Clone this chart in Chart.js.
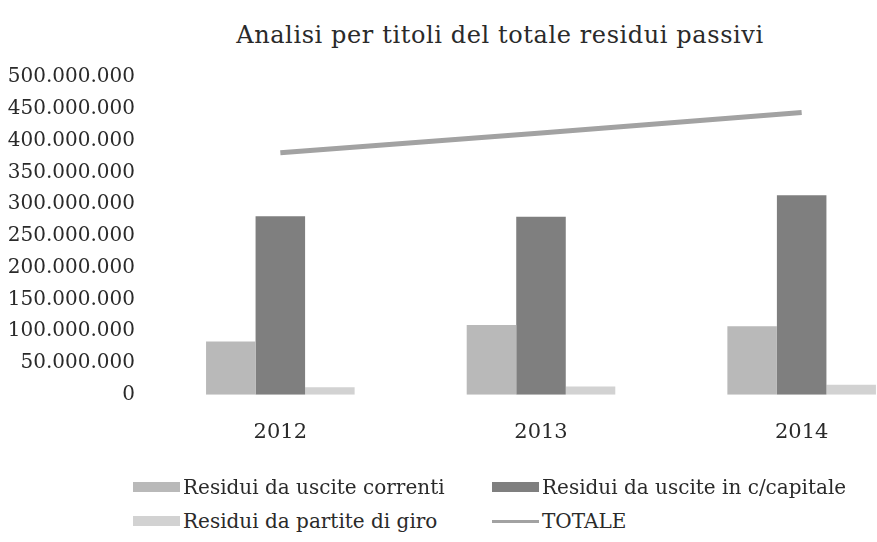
<!DOCTYPE html>
<html>
<head>
<meta charset="utf-8">
<script src="https://cdn.jsdelivr.net/npm/chart.js@4.4.1/dist/chart.umd.min.js"></script>
<style>
    body { margin: 0; background: #fff; overflow: hidden; width: 877px; height: 542px; position: relative; }
    #wrap { position: absolute; left: 0; top: 0; width: 932px; height: 479px; }
    #title { position: absolute; top: 21px; left: 0; width: 1000px; text-align: center; font: 24px "DejaVu Serif", serif; color: #2a2a2a; letter-spacing: 0.6px; }
    .leg { position: absolute; font: 20px "DejaVu Serif", serif; color: #2a2a2a; display: flex; align-items: center; white-space: nowrap; }
    .leg .box { width: 47px; height: 10px; margin-right: 3px; }
    .leg .ln { width: 47px; height: 3px; margin-right: 3px; }
</style>
</head>
<body>
<div id="title">Analisi per titoli del totale residui passivi</div>
<div id="wrap"><canvas id="chart" width="932" height="479"></canvas></div>
<div id="legend"></div>
<script>
// data
const years = ["2012", "2013", "2014"];
const residuiCorrenti = [84000000, 110000000, 108000000];
const residuiCapitale = [281000000, 280000000, 314000000];
const residuiGiro = [12000000, 13000000, 16000000];
const totale = [381000000, 412000000, 444000000];
const yTicksMax = 500000000;
const yTickStep = 50000000;

const seriesNames = ["Residui da uscite correnti", "Residui da uscite in c/capitale", "Residui da partite di giro", "TOTALE"];
const seriesColors = ["#b9b9b9", "#7f7f7f", "#d2d2d2", "#a2a2a2"];

const fmt = (v) => String(v).replace(/\B(?=(\d{3})+(?!\d))/g, ".");

const ctx = document.getElementById("chart").getContext("2d");
const myChart = new Chart(ctx, {
    type: "bar",
    data: {
        labels: years,
        datasets: [
            { label: seriesNames[0], data: residuiCorrenti, backgroundColor: seriesColors[0], order: 2 },
            { label: seriesNames[1], data: residuiCapitale, backgroundColor: seriesColors[1], order: 2 },
            { label: seriesNames[2], data: residuiGiro, backgroundColor: seriesColors[2], order: 2 },
            {
                type: "line",
                label: seriesNames[3],
                data: totale,
                borderColor: seriesColors[3],
                borderWidth: 5,
                pointRadius: 0,
                fill: false,
                order: 1
            }
        ]
    },
    options: {
        responsive: false,
        animation: false,
        layout: { padding: { top: 77, bottom: 9, left: 0, right: 0 } },
        datasets: {
            bar: { categoryPercentage: 0.57, barPercentage: 1.0 }
        },
        plugins: {
            legend: { display: false },
            title: { display: false },
            tooltip: { enabled: false }
        },
        scales: {
            x: {
                grid: { display: false, drawTicks: false },
                border: { display: false },
                ticks: { color: "#2a2a2a", font: { family: "DejaVu Serif", size: 21 }, padding: 25 }
            },
            y: {
                min: 0,
                max: yTicksMax,
                afterFit: (axis) => { axis.width = 150; },
                grid: { display: false, drawTicks: false },
                border: { display: false },
                ticks: {
                    stepSize: yTickStep,
                    padding: 15,
                    color: "#2a2a2a",
                    font: { family: "DejaVu Serif", size: 20 },
                    callback: (v) => fmt(v)
                }
            }
        }
    }
});

// legend in two columns like the original
const legendPos = [
    { left: 133, top: 488 },
    { left: 492, top: 488 },
    { left: 133, top: 522 },
    { left: 492, top: 522 }
];
const legendEl = document.getElementById("legend");
seriesNames.forEach((name, i) => {
    const item = document.createElement("div");
    item.className = "leg";
    item.style.left = legendPos[i].left + "px";
    item.style.top = (legendPos[i].top - 13) + "px";
    const mark = document.createElement("span");
    mark.className = i === 3 ? "ln" : "box";
    mark.style.background = seriesColors[i];
    item.appendChild(mark);
    item.appendChild(document.createTextNode(name));
    legendEl.appendChild(item);
});
</script>
</body>
</html>
